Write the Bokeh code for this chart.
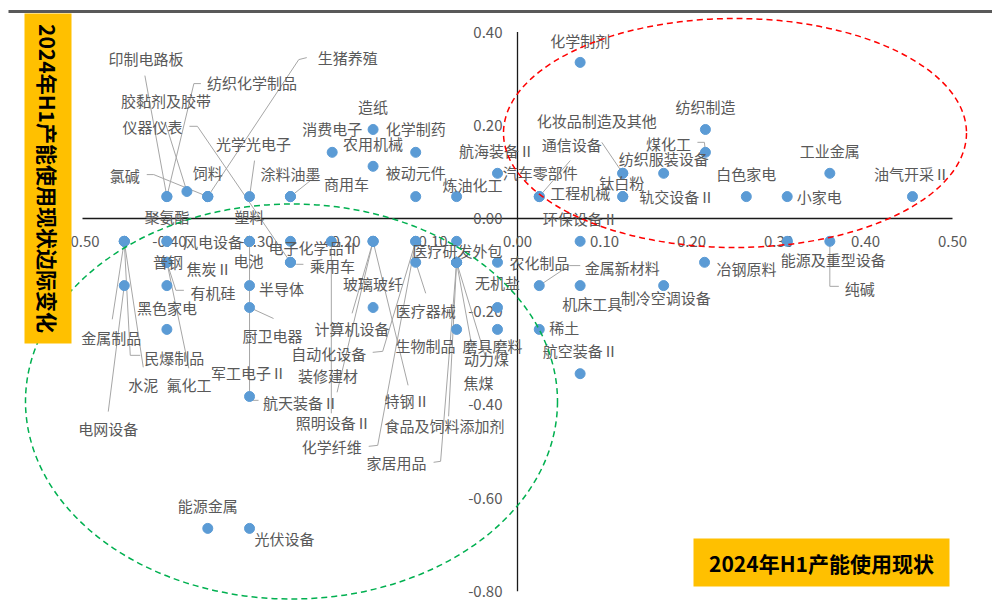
import math
from bokeh.plotting import figure
from bokeh.models import Range1d
from bokeh.core.properties import value
from bokeh.embed import file_html
from bokeh.resources import INLINE

# ---------------- data ----------------
# 行业名称
names = [
    "印制电路板", "纺织化学制品", "胶黏剂及胶带", "仪器仪表", "氯碱", "饲料", "生猪养殖",
    "光学光电子", "涂料油墨", "商用车", "消费电子", "造纸", "化学制药", "农用机械",
    "被动元件", "炼油化工", "航海装备Ⅱ", "汽车零部件", "化学制剂", "化妆品制造及其他",
    "通信设备", "纺织制造", "煤化工", "纺织服装设备", "钛白粉", "工程机械", "轨交设备Ⅱ",
    "白色家电", "小家电", "工业金属", "油气开采Ⅱ", "环保设备Ⅱ", "能源及重型设备", "纯碱",
    "冶钢原料", "制冷空调设备", "机床工具", "金属新材料", "农化制品", "无机盐", "稀土",
    "航空装备Ⅱ", "聚氨酯", "塑料", "风电设备", "普钢", "焦炭Ⅱ", "有机硅", "电池", "半导体",
    "黑色家电", "金属制品", "民爆制品", "水泥", "电网设备", "氟化工", "厨卫电器",
    "军工电子Ⅱ", "航天装备Ⅱ", "电子化学品Ⅱ", "乘用车", "玻璃玻纤", "医疗研发外包",
    "医疗器械", "计算机设备", "自动化设备", "装修建材", "特钢Ⅱ", "生物制品", "磨具磨料",
    "动力煤", "焦煤", "照明设备Ⅱ", "化学纤维", "食品及饲料添加剂", "家居用品",
    "能源金属", "光伏设备",
]

# 2024年H1产能使用现状 (横轴)
util_level = [
    -0.403, -0.403, -0.380, -0.261, -0.356, -0.356, -0.356,
    -0.308, -0.261, -0.261, -0.213, -0.166, -0.117, -0.166,
    -0.117, -0.070, -0.023, 0.025, 0.072, 0.121,
    0.121, 0.216, 0.216, 0.168, 0.121, 0.025, 0.121,
    0.263, 0.310, 0.359, 0.454, 0.072, 0.310, 0.359,
    0.215, 0.168, 0.072, 0.025, -0.023, -0.023, 0.025,
    0.072, -0.403, -0.308, -0.403, -0.403, -0.403, -0.403, -0.308, -0.308,
    -0.403, -0.452, -0.452, -0.452, -0.452, -0.403, -0.308,
    -0.308, -0.308, -0.261, -0.261, -0.166, -0.070,
    -0.117, -0.166, -0.117, -0.166, -0.166, -0.070, -0.023,
    -0.070, -0.070, -0.214, -0.117, -0.070, -0.070,
    -0.356, -0.308,
]

# 2024年H1产能使用现状边际变化 (纵轴)
util_change = [
    0.047, 0.047, 0.058, -0.094, 0.047, 0.047, 0.047,
    0.047, 0.047, 0.047, 0.142, 0.191, 0.142, 0.112,
    0.047, 0.047, 0.097, 0.047, 0.335, 0.097,
    0.097, 0.191, 0.142, 0.097, 0.047, 0.047, 0.047,
    0.047, 0.047, 0.097, 0.047, -0.049, -0.049, -0.049,
    -0.094, -0.144, -0.144, -0.144, -0.094, -0.191, -0.238,
    -0.333, -0.049, -0.049, -0.049, -0.144, -0.094, -0.094, -0.049, -0.144,
    -0.238, -0.049, -0.049, -0.049, -0.144, -0.094, -0.191,
    -0.382, -0.049, -0.049, -0.094, -0.191, -0.049,
    -0.094, -0.049, -0.049, -0.049, -0.049, -0.238, -0.238,
    -0.094, -0.094, -0.049, -0.049, -0.094, -0.094,
    -0.665, -0.665,
]

x_ticks = [-0.5, -0.4, -0.3, -0.2, -0.1, 0.0, 0.1, 0.2, 0.3, 0.4, 0.5]
x_tick_labels = ["-0.50", "-0.40", "-0.30", "-0.20", "-0.10", "0.00",
                 "0.10", "0.20", "0.30", "0.40", "0.50"]
y_ticks = [0.4, 0.2, 0.0, -0.2, -0.4, -0.6, -0.8]
y_tick_labels = ["0.40", "0.20", "0.00", "-0.20", "-0.40", "-0.60", "-0.80"]

x_title = "2024年H1产能使用现状"
y_title = "2024年H1产能使用现状边际变化"

# ---------------- label layout (screen px, relative to each point; +y is down) ----------------
label_offset = {
    "印制电路板": (-21, -138), "纺织化学制品": (85, -114), "胶黏剂及胶带": (-21, -91),
    "仪器仪表": (-138, -136), "氯碱": (-83, -21), "饲料": (0, -24), "生猪养殖": (140, -139),
    "光学光电子": (4, -53), "涂料油墨": (0, -23), "商用车": (56, -13), "消费电子": (0, -24),
    "造纸": (0, -23), "化学制药": (0, -24), "农用机械": (0, -23), "被动元件": (0, -24),
    "炼油化工": (16, -12), "航海装备Ⅱ": (-1, -23), "汽车零部件": (1, -24), "化学制剂": (0, -22),
    "化妆品制造及其他": (-26, -53), "通信设备": (-51, -29), "纺织制造": (0, -23),
    "煤化工": (-37, -9), "纺织服装设备": (0, -15), "钛白粉": (-1, -14), "工程机械": (41, -4),
    "轨交设备Ⅱ": (54, 0), "白色家电": (0, -23), "小家电": (32, 0), "工业金属": (0, -23),
    "油气开采Ⅱ": (-1, -23), "环保设备Ⅱ": (0, -23), "能源及重型设备": (46, 18), "纯碱": (30, 47),
    "冶钢原料": (42, 6), "制冷空调设备": (2, 12), "机床工具": (12, 18), "金属新材料": (83, -18),
    "农化制品": (42, 0), "无机盐": (0, -25), "稀土": (25, -2), "航空装备Ⅱ": (0, -23),
    "聚氨酯": (0, -25), "塑料": (0, -25), "风电设备": (46, 0), "普钢": (1, -24),
    "焦炭Ⅱ": (42, 6), "有机硅": (46, 30), "电池": (-1, 19), "半导体": (32, 3),
    "黑色家电": (0, -22), "金属制品": (-13, 96), "民爆制品": (50, 116), "水泥": (19, 143),
    "电网设备": (-16, 143), "氟化工": (22, 122), "厨卫电器": (23, 28), "军工电子Ⅱ": (-1, -24),
    "航天装备Ⅱ": (51, 161), "电子化学品Ⅱ": (23, 6), "乘用车": (42, 3), "玻璃玻纤": (0, -24),
    "医疗研发外包": (1, 9), "医疗器械": (10, 48), "计算机设备": (-21, 87), "自动化设备": (-87, 112),
    "装修建材": (-45, 134), "特钢Ⅱ": (34, 159), "生物制品": (-31, 16), "磨具磨料": (-5, 16),
    "动力煤": (30, 96), "焦煤": (22, 120), "照明设备Ⅱ": (2, 181), "化学纤维": (-84, 205),
    "食品及饲料添加剂": (-12, 163), "家居用品": (-60, 200), "能源金属": (0, -23), "光伏设备": (35, 10),
}

# leader-line bends, screen px relative to the point
leaders = {
    "印制电路板": [(-22, -121)], "纺织化学制品": [(27, -113), (34, -113)],
    "胶黏剂及胶带": [(-21, -67)], "仪器仪表": [(-93, -136), (-101, -136)],
    "氯碱": [(-54, -22), (-61, -22)], "生猪养殖": [(91, -137), (99, -139)],
    "光学光电子": [(5, -36)], "商用车": [(20, -16), (28, -16)], "汽车零部件": [(31, -36)],
    "通信设备": [(-21, -31)], "煤化工": [(-1, -10), (-8, -10)], "纯碱": [(0, 45), (9, 45)],
    "金属新材料": [(30, -20), (41, -20)], "有机硅": [(9, 28), (17, 28)],
    "金属制品": [(-12, 78)], "民爆制品": [(6, 114), (16, 114)], "水泥": [(19, 126)],
    "电网设备": [(-16, 126)], "氟化工": [(22, 106)], "厨卫电器": [(24, 11)],
    "航天装备Ⅱ": [(0, 159), (9, 159)], "乘用车": [(6, 2), (13, 2)], "医疗器械": [(10, 31)],
    "计算机设备": [(-21, 72)], "自动化设备": [(-33, 110), (-43, 111)], "装修建材": [(-36, 151)],
    "特钢Ⅱ": [(35, 144)], "动力煤": [(16, 88)], "焦煤": [(29, 95)], "照明设备Ⅱ": [(0, 172)],
    "化学纤维": [(-38, 204), (-47, 205)], "食品及饲料添加剂": [(-8, 154)],
    "家居用品": [(-16, 199), (-23, 200)],
}

# ---------------- geometry ----------------
W, H = 992, 608
ORIGIN_PX = (517, 218)      # canvas position of (0, 0)
PX_PER_X = 870.0
PX_PER_Y = 466.0


def ddx(px):
    return px / PX_PER_X


def ddy(py):
    return -py / PX_PER_Y


def cx(px):
    return (px - ORIGIN_PX[0]) / PX_PER_X


def cy(py):
    return (ORIGIN_PX[1] - py) / PX_PER_Y


FONT = value("Noto Sans CJK SC")
LABEL_COLOR = "#595959"
DOT_COLOR = "#5B9BD5"

p = figure(width=W, height=H,
           x_range=Range1d(cx(0), cx(W)), y_range=Range1d(cy(H), cy(0)),
           x_axis_type=None, y_axis_type=None,
           toolbar_location=None, output_backend="svg", min_border=0)
p.outline_line_color = None
p.background_fill_color = "white"
p.border_fill_color = "white"

# top rule
p.segment(x0=[cx(8)], y0=[cy(11)], x1=[cx(W)], y1=[cy(11)],
          line_color="#595959", line_width=3)

# axes crossing at the origin
p.segment(x0=[x_ticks[0]], y0=[0], x1=[x_ticks[-1]], y1=[0],
          line_color="#1a1a1a", line_width=1.3)
p.segment(x0=[0], y0=[y_ticks[-1]], x1=[0], y1=[y_ticks[0]],
          line_color="#1a1a1a", line_width=1.3)

# tick labels
p.text(x=x_ticks, y=[ddy(23)] * len(x_ticks), text=x_tick_labels,
       text_font=FONT, text_font_size="15px", text_color=LABEL_COLOR,
       text_align="center", text_baseline="middle")
p.text(x=[ddx(-15)] * len(y_ticks), y=y_ticks, text=y_tick_labels,
       text_font=FONT, text_font_size="15px", text_color=LABEL_COLOR,
       text_align="right", text_baseline="middle")

# leader lines
lx, ly = [], []
for n, xv, yv in zip(names, util_level, util_change):
    if n in leaders:
        xs = [xv] + [xv + ddx(o[0]) for o in leaders[n]]
        ys = [yv] + [yv + ddy(o[1]) for o in leaders[n]]
        lx.append(xs)
        ly.append(ys)
p.multi_line(xs=lx, ys=ly, line_color="#A6A6A6", line_width=1)

# points
p.scatter(x=util_level, y=util_change, size=10, marker="circle",
          fill_color=DOT_COLOR, line_color=DOT_COLOR)

# data labels
tx = [xv + ddx(label_offset[n][0]) for n, xv in zip(names, util_level)]
ty = [yv + ddy(label_offset[n][1]) for n, yv in zip(names, util_change)]
p.text(x=tx, y=ty, text=names, text_font=FONT, text_font_size="15px",
       text_color=LABEL_COLOR, text_align="center", text_baseline="middle")

# dashed group outlines
p.ellipse(x=[cx(734.5)], y=[cy(132.5)], width=[ddx(463)], height=[-ddy(229)],
          fill_color=None, line_color="#FF0000", line_width=1.5, line_dash="6 4")
p.ellipse(x=[cx(291)], y=[cy(401)], width=[ddx(532)], height=[-ddy(395)],
          fill_color=None, line_color="#00B050", line_width=1.5, line_dash="6 4")

# axis titles in yellow boxes
p.quad(left=[cx(24)], right=[cx(71)], top=[cy(13)], bottom=[cy(343)],
       fill_color="#FFC000", line_color=None)
p.text(x=[cx(47.5)], y=[cy(178)], text=[y_title], angle=-math.pi / 2,
       text_font=FONT, text_font_size="21px", text_font_style="bold",
       text_color="black", text_align="center", text_baseline="middle")
p.quad(left=[cx(693)], right=[cx(949)], top=[cy(538)], bottom=[cy(586)],
       fill_color="#FFC000", line_color=None)
p.text(x=[cx(821)], y=[cy(562)], text=[x_title],
       text_font=FONT, text_font_size="21px", text_font_style="bold",
       text_color="black", text_align="center", text_baseline="middle")

open("out.html", "w").write(file_html(p, INLINE))
